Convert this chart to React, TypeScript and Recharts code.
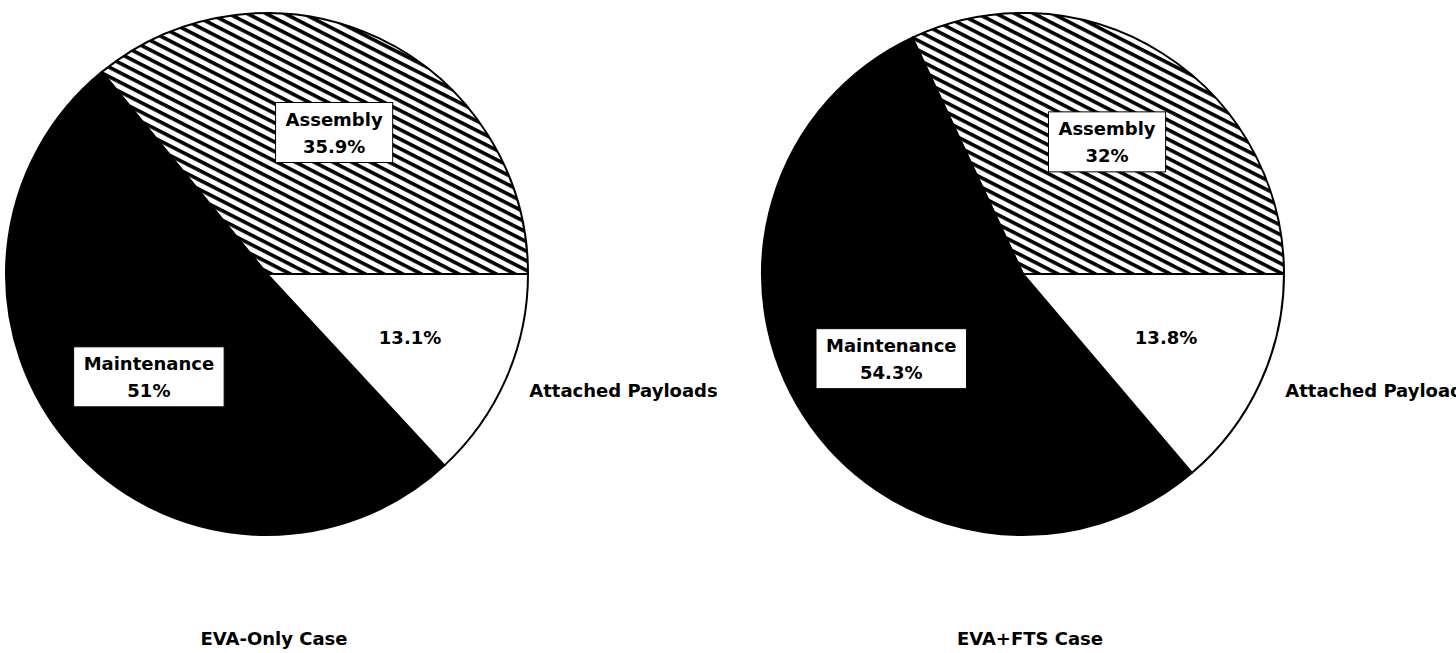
import React from "react";
import { PieChart, Pie, Cell } from "recharts";

const categories = ["Assembly", "Maintenance", "Attached Payloads"];
const evaOnlyValues = [35.9, 51, 13.1];
const evaFtsValues = [32, 54.3, 13.8];
const caseTitles = ["EVA-Only Case", "EVA+FTS Case"];

const sliceFills = ["url(#hatch)", "#000", "#fff"];
const FONT = "'DejaVu Sans', sans-serif";
const FONT_SIZE = 18;
const RAD = Math.PI / 180;

const toRows = (values: number[]) =>
  categories.map((name, i) => ({ name, value: values[i] }));

const pies = [
  { title: caseTitles[0], data: toRows(evaOnlyValues), cx: 267, cy: 274 },
  { title: caseTitles[1], data: toRows(evaFtsValues), cx: 1023, cy: 274 },
];

let ctx: CanvasRenderingContext2D | null = null;
const textWidth = (s: string) => {
  if (!ctx) ctx = document.createElement("canvas").getContext("2d");
  if (!ctx) return s.length * FONT_SIZE * 0.65;
  ctx.font = `bold ${FONT_SIZE}px ${FONT}`;
  return ctx.measureText(s).width;
};

const renderLabel = (props: any) => {
  const { cx, cy, midAngle, outerRadius, name, value } = props;
  const pct = `${value}%`;
  const textProps = {
    fontFamily: FONT,
    fontSize: FONT_SIZE,
    fontWeight: "bold",
    fill: "#000",
    dominantBaseline: "central" as const,
  };

  // small slice: percentage inside, name outside the rim
  if (name === "Attached Payloads") {
    const a = -24 * RAD;
    const px = cx + outerRadius * 0.6 * Math.cos(a);
    const py = cy - outerRadius * 0.6 * Math.sin(a);
    const nx = cx + outerRadius * 1.1 * Math.cos(a);
    const ny = cy - outerRadius * 1.1 * Math.sin(a);
    return (
      <g>
        <text x={px} y={py} textAnchor="middle" {...textProps}>
          {pct}
        </text>
        <text x={nx} y={ny} textAnchor="start" {...textProps}>
          {name}
        </text>
      </g>
    );
  }

  const x = cx + outerRadius * 0.6 * Math.cos(midAngle * RAD);
  const y = cy - outerRadius * 0.6 * Math.sin(midAngle * RAD);
  const w = Math.max(textWidth(name), textWidth(pct)) + 20;
  const h = 60;
  return (
    <g>
      <rect x={x - w / 2} y={y - h / 2} width={w} height={h} fill="#fff" stroke="#000" strokeWidth={1} />
      <text x={x} y={y - 13} textAnchor="middle" {...textProps}>
        {name}
      </text>
      <text x={x} y={y + 14} textAnchor="middle" {...textProps}>
        {pct}
      </text>
    </g>
  );
};

export default function App() {
  return (
    <div style={{ position: "absolute", left: 0, top: 0, width: 1456, height: 653, background: "#fff" }}>
      <svg width={0} height={0} style={{ position: "absolute" }}>
        <defs>
          <pattern id="hatch" width={12} height={8.5} patternUnits="userSpaceOnUse" patternTransform="rotate(27)">
            <rect width={12} height={8.5} fill="#fff" />
            <rect width={12} height={3.6} fill="#000" />
          </pattern>
        </defs>
      </svg>
      <PieChart width={1456} height={653} margin={{ top: 0, right: 0, bottom: 0, left: 0 }}>
        {pies.map((p) => (
          <Pie
            key={p.title}
            data={p.data}
            dataKey="value"
            nameKey="name"
            cx={p.cx}
            cy={p.cy}
            outerRadius={261}
            startAngle={0}
            endAngle={360}
            stroke="#000"
            strokeWidth={2}
            labelLine={false}
            label={renderLabel}
            isAnimationActive={false}
          >
            {p.data.map((d, i) => (
              <Cell key={d.name} fill={sliceFills[i]} />
            ))}
          </Pie>
        ))}
        {pies.map((p) => (
          <text
            key={p.title + "-t"}
            x={p.cx + 7}
            y={638}
            textAnchor="middle"
            dominantBaseline="central"
            fontFamily={FONT}
            fontSize={FONT_SIZE}
            fontWeight="bold"
            fill="#000"
          >
            {p.title}
          </text>
        ))}
      </PieChart>
    </div>
  );
}
